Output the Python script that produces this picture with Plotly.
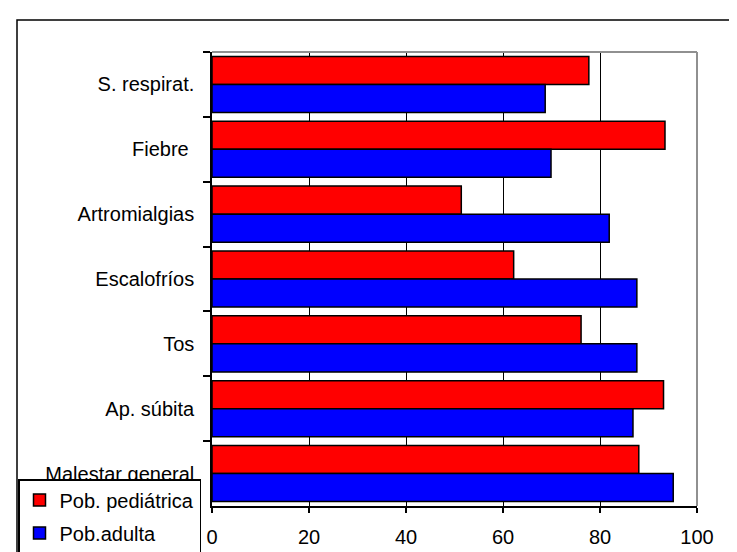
import plotly.graph_objects as go

categories = ["S. respirat.", "Fiebre\u00a0", "Artromialgias", "Escalofríos", "Tos", "Ap. súbita", "Malestar general"]
pediatrica = [77.7, 93.4, 51.4, 62.2, 76.1, 93.1, 88.0]
adulta = [68.7, 69.9, 81.9, 87.6, 87.6, 86.8, 95.1]
x_ticks = [0, 20, 40, 60, 80, 100]

W, H = 737, 552
L, R, T, B = 204, 689, 44, 498
pw, ph = R - L, B - T

def px(x):
    return (x - L) / pw

def py(y):
    return (B - y) / ph

FONT = "Liberation Sans, Arial, sans-serif"

fig = go.Figure()
fig.add_trace(go.Bar(
    y=categories, x=pediatrica, orientation="h", name="Pob. pediátrica",
    marker=dict(color="#FF0000", line=dict(color="black", width=1.5)),
    legendgroup="a",
))
fig.add_trace(go.Bar(
    y=categories, x=adulta, orientation="h", name="Pob.adulta",
    marker=dict(color="#0000FF", line=dict(color="black", width=1.5)),
    legendgroup="b",
))

fig.update_layout(
    width=W, height=H,
    margin=dict(l=L, r=W - R, t=T, b=H - B, autoexpand=False),
    paper_bgcolor="white", plot_bgcolor="white",
    barmode="group", bargap=0.135, bargroupgap=0,
    font=dict(family=FONT, size=20, color="black"),
    showlegend=True,
    legend=dict(
        x=px(10), y=py(471), xanchor="left", yanchor="top",
        bgcolor="white", bordercolor="black", borderwidth=1.5,
        font=dict(family=FONT, size=20, color="black"),
        tracegroupgap=4, itemwidth=30,
    ),
    xaxis=dict(
        range=[0, 100], tickvals=x_ticks, ticktext=[str(v) for v in x_ticks],
        showgrid=True, gridcolor="black", gridwidth=1,
        showline=True, linecolor="black", linewidth=1.5,
        ticks="outside", ticklen=5, tickcolor="black", tickwidth=1.5,
        zeroline=False, ticklabelstandoff=7,
    ),
    yaxis=dict(
        autorange="reversed", type="category",
        showgrid=False, showline=True, linecolor="black", linewidth=1.5,
        ticks="outside", ticklen=7, tickcolor="black", tickwidth=1.5,
        tickson="boundaries", ticklabelstandoff=12, zeroline=False,
    ),
    shapes=[
        dict(type="line", xref="paper", yref="paper", x0=0, x1=1, y0=1, y1=1,
             line=dict(color="#909090", width=2), layer="above"),
        dict(type="line", xref="paper", yref="paper", x0=1, x1=1, y0=0, y1=1,
             line=dict(color="#909090", width=2), layer="above"),
        dict(type="rect", xref="paper", yref="paper", x0=px(9), x1=px(760),
             y0=py(580), y1=py(12), line=dict(color="black", width=1.5),
             fillcolor="rgba(0,0,0,0)", layer="below"),
    ],
)

fig.write_html("out.html")
